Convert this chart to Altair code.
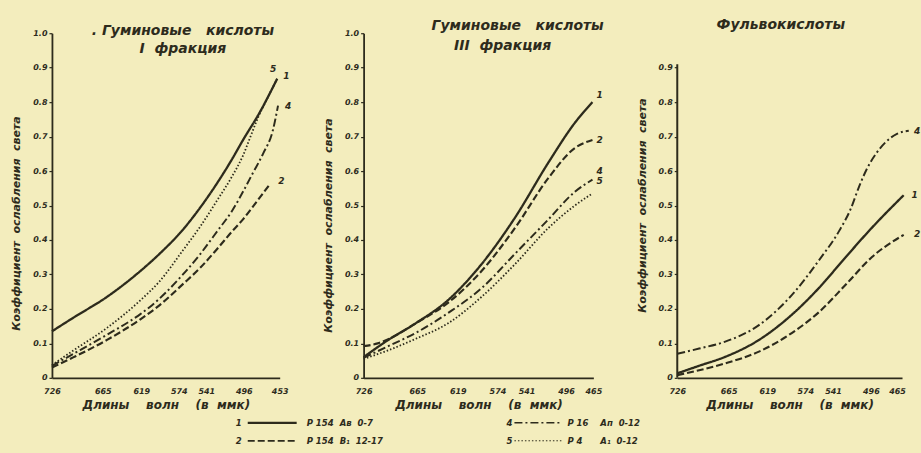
import altair as alt
import pandas as pd

# ---------------- data ----------------
CURVE_IDS = ["1", "2", "4", "5"]

# Panel 1: Гуминовые кислоты, I фракция
p1_c1_wl = [726, 700, 660, 620, 597, 569, 548, 528, 510, 497, 477, 456]
p1_c1_v = [0.135, 0.175, 0.235, 0.31, 0.36, 0.43, 0.495, 0.565, 0.635, 0.69, 0.77, 0.868]
p1_c2_wl = [726, 700, 660, 620, 600, 569, 548, 528, 510, 497, 481, 465]
p1_c2_v = [0.03, 0.06, 0.11, 0.17, 0.205, 0.272, 0.32, 0.374, 0.425, 0.46, 0.51, 0.561]
p1_c4_wl = [726, 700, 660, 620, 609, 569, 548, 528, 510, 497, 485, 473, 461, 455]
p1_c4_v = [0.035, 0.07, 0.125, 0.185, 0.205, 0.30, 0.36, 0.425, 0.485, 0.54, 0.595, 0.65, 0.72, 0.79]
p1_c5_wl = [726, 700, 660, 620, 597, 569, 548, 528, 510, 497, 488, 479, 467, 456]
p1_c5_v = [0.037, 0.08, 0.145, 0.225, 0.28, 0.37, 0.44, 0.515, 0.585, 0.645, 0.70, 0.755, 0.815, 0.868]

# Panel 2: Гуминовые кислоты, III фракция
p2_c1_wl = [726, 698, 667, 629, 592, 554, 516, 486, 466]
p2_c1_v = [0.06, 0.11, 0.158, 0.228, 0.33, 0.465, 0.625, 0.74, 0.80]
p2_c2_wl = [726, 710, 698, 667, 629, 592, 554, 516, 486, 466]
p2_c2_v = [0.092, 0.10, 0.112, 0.158, 0.22, 0.31, 0.435, 0.58, 0.667, 0.69]
p2_c4_wl = [726, 698, 667, 629, 592, 554, 516, 486, 466]
p2_c4_v = [0.058, 0.092, 0.13, 0.19, 0.26, 0.36, 0.46, 0.54, 0.575]
p2_c5_wl = [726, 698, 667, 629, 592, 554, 516, 486, 466]
p2_c5_v = [0.055, 0.08, 0.113, 0.16, 0.235, 0.33, 0.435, 0.50, 0.535]

# Panel 3: Фульвокислоты
p3_c4_wl = [726, 700, 669, 629, 590, 558, 534, 520, 510, 500, 490, 478, 465, 451]
p3_c4_v = [0.07, 0.085, 0.105, 0.153, 0.24, 0.34, 0.425, 0.49, 0.555, 0.61, 0.65, 0.685, 0.708, 0.717]
p3_c1_wl = [726, 700, 669, 629, 590, 558, 526, 495, 457]
p3_c1_v = [0.013, 0.035, 0.061, 0.11, 0.183, 0.26, 0.35, 0.435, 0.53]
p3_c2_wl = [726, 700, 669, 629, 590, 558, 526, 495, 457]
p3_c2_v = [0.008, 0.022, 0.042, 0.076, 0.13, 0.19, 0.27, 0.35, 0.415]

# tick labels
p1_ticks = [726, 665, 619, 574, 541, 496, 453]
p2_ticks = [726, 665, 619, 574, 541, 496, 465]
p3_ticks = [726, 665, 619, 574, 541, 496, 465]
y_ticks_10 = [0, 0.1, 0.2, 0.3, 0.4, 0.5, 0.6, 0.7, 0.8, 0.9, 1.0]
y_ticks_09 = [0, 0.1, 0.2, 0.3, 0.4, 0.5, 0.6, 0.7, 0.8, 0.9]

NB = "\u00a0"
# texts
p1_title = [". Гуминовые" + NB * 3 + "кислоты", "I" + NB * 2 + "фракция"]
p2_title = ["Гуминовые" + NB * 3 + "кислоты", "III" + NB * 2 + "фракция"]
p3_title = ["Фульвокислоты"]
x_title = "Длины" + NB * 4 + "волн" + NB * 4 + "(в" + NB * 2 + "ммк)"
y_title = "Коэффициент" + NB * 2 + "ослабления" + NB * 2 + "света"
legend_nums = ["1", "2", "4", "5"]
legend_codes = ["P 154", "P 154", "P 16", "P 4"]
legend_horizons = ["Ав" + NB * 2 + "0-7", "В₁" + NB * 2 + "12-17", "Ап" + NB * 2 + "0-12", "А₁" + NB * 2 + "0-12"]

# ---------------- styles ----------------
INK = "#2d2b1c"
BG = "#f3edbd"
FONT = "DejaVu Sans"
DASHES = [[1, 0], [7, 3], [8, 3, 2, 3], [1.5, 2]]
WIDTHS = [2.3, 1.8, 1.6, 1.0]
H = 345
ONE = pd.DataFrame({"a": [0]})


def curves_df(curves):
    rows = []
    for cid, (wl, vals) in curves.items():
        for w, v in zip(wl, vals):
            rows.append({"wl": w, "v": v, "curve": cid})
    return pd.DataFrame(rows)


def text_at(x, y, txt, size, align="center"):
    return alt.Chart(ONE).mark_text(
        font=FONT, fontStyle="italic", fontWeight="bold", fontSize=size,
        color=INK, align=align, baseline="middle"
    ).encode(x=alt.datum(x), y=alt.datum(y), text=alt.value(txt))


def panel(curves, ticks, xdom, width, yticks, titles, title_pos, labels, ytitle_y, ydomain=True):
    df = curves_df(curves)
    x = alt.X("wl:Q", scale=alt.Scale(domain=xdom, nice=False, zero=False),
              axis=alt.Axis(values=ticks, tickCount=40, format="d", title=x_title, ticks=False,
                            labelPadding=10, titlePadding=4, labelFlush=False,
                            labelOverlap=False, grid=False))
    y = alt.Y("v:Q", scale=alt.Scale(domain=[0, 1], nice=False, zero=True),
              axis=alt.Axis(values=yticks, tickCount=40,
                            labelExpr="datum.value == 0 ? '0' : format(datum.value, '.1f')",
                            title=y_title, tickSize=3, labelPadding=2, titlePadding=11, titleY=ytitle_y,
                            domain=ydomain, labelFlush=False, labelOverlap=False, grid=False))
    lines = alt.Chart(df).mark_line(interpolate="monotone", color=INK).encode(
        x=x, y=y,
        order=alt.Order("wl:Q", sort="descending"),
        strokeDash=alt.StrokeDash("curve:N", scale=alt.Scale(domain=CURVE_IDS, range=DASHES), legend=None),
        strokeWidth=alt.StrokeWidth("curve:N", scale=alt.Scale(domain=CURVE_IDS, range=WIDTHS), legend=None),
    )
    layers = [lines]
    if not ydomain:
        layers.append(alt.Chart(ONE).mark_rule(color=INK, strokeWidth=2).encode(
            x=alt.datum(xdom[0]), y=alt.datum(0), y2=alt.datum(0.91)))
    for txt, (tx, ty) in zip(titles, title_pos):
        layers.append(text_at(tx, ty, txt, 14))
    for cid, (lx, ly) in labels.items():
        layers.append(text_at(lx, ly, cid, 9))
    return layers, width


l1, w1 = panel(
    {"1": (p1_c1_wl, p1_c1_v), "2": (p1_c2_wl, p1_c2_v), "4": (p1_c4_wl, p1_c4_v), "5": (p1_c5_wl, p1_c5_v)},
    p1_ticks, [726, 453], 228, y_ticks_10, p1_title, [(569, 1.005), (569, 0.955)],
    {"5": (461, 0.895), "1": (445, 0.875), "4": (443, 0.79), "2": (451, 0.57)}, 190)

l2, w2 = panel(
    {"1": (p2_c1_wl, p2_c1_v), "2": (p2_c2_wl, p2_c2_v), "4": (p2_c4_wl, p2_c4_v), "5": (p2_c5_wl, p2_c5_v)},
    p2_ticks, [726, 465], 230, y_ticks_10, p2_title, [(551, 1.02), (568, 0.963)],
    {"1": (458, 0.82), "2": (458, 0.69), "4": (458, 0.60), "5": (458, 0.57)}, 192)

# legend (drawn in panel 2, below the axes)
leg_rows = [390, 408, 390, 408]
leg_num_x = [-125, -125, 146, 146]
leg_line_x = [(-116, -67), (-116, -67), (151, 199), (151, 199)]
leg_code_x = [-57, -57, 204, 204]
leg_hor_x = [-24, -24, 237, 237]
for i, cid in enumerate(legend_nums):
    yy = leg_rows[i]
    k = CURVE_IDS.index(cid)
    for xx, txt, al in [(leg_num_x[i], cid, "center"), (leg_code_x[i], legend_codes[i], "left"),
                        (leg_hor_x[i], legend_horizons[i], "left")]:
        l2.append(alt.Chart(ONE).mark_text(font=FONT, fontStyle="italic", fontWeight="bold", fontSize=8.5,
                                           color=INK, align=al, baseline="middle").encode(
            x=alt.value(xx), y=alt.value(yy), text=alt.value(txt)))
    l2.append(alt.Chart(ONE).mark_rule(color=INK, strokeWidth=WIDTHS[k], strokeDash=DASHES[k]).encode(
        x=alt.value(leg_line_x[i][0]), x2=alt.value(leg_line_x[i][1]), y=alt.value(yy)))

l3, w3 = panel(
    {"4": (p3_c4_wl, p3_c4_v), "1": (p3_c1_wl, p3_c1_v), "2": (p3_c2_wl, p3_c2_v)},
    p3_ticks, [726, 459], 225, y_ticks_09, p3_title, [(603, 1.023)],
    {"4": (441, 0.717), "1": (444, 0.53), "2": (441, 0.417)}, 172, ydomain=False)

c1 = alt.layer(*l1).properties(width=w1, height=H)
c2 = alt.layer(*l2).properties(width=w2, height=H)
c3 = alt.layer(*l3).properties(width=w3, height=H)

chart = alt.hconcat(c1, c2, c3, spacing=84, bounds="flush").properties(
    background=BG,
    padding={"left": 10, "top": 18, "right": 0, "bottom": 20},
).configure_view(stroke=None).configure_axis(
    labelFont=FONT, labelFontStyle="italic", labelFontWeight="bold", labelFontSize=8, labelColor=INK,
    titleFont=FONT, titleFontStyle="italic", titleFontWeight="bold", titleFontSize=11, titleColor=INK,
    domainColor=INK, domainWidth=1.8, tickColor=INK, tickWidth=1.2, labelOverlap=False,
).configure_axisX(titleFontSize=12)

chart.save("out.html", embed_options={"renderer": "svg", "actions": False})
